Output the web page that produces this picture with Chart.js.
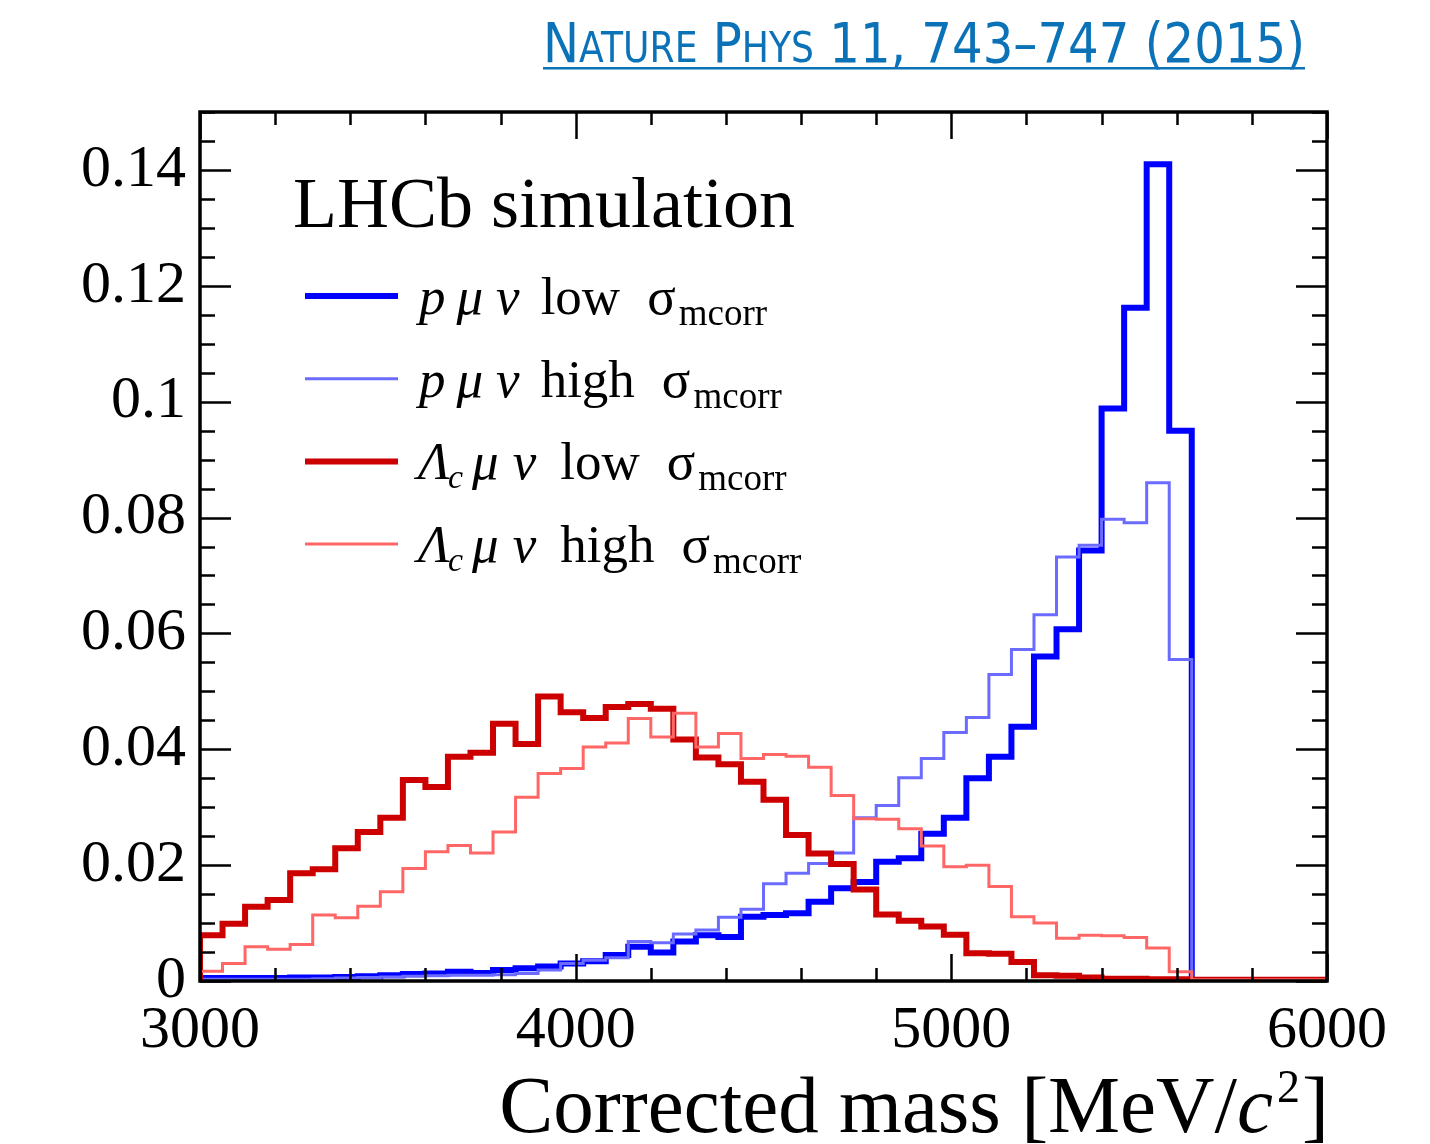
<!DOCTYPE html>
<html>
<head>
<meta charset="utf-8">
<title>LHCb simulation - corrected mass</title>
<script src="https://cdn.jsdelivr.net/npm/chart.js@4.4.1/dist/chart.umd.min.js"></script>
<style>
  html, body { margin: 0; padding: 0; background: #fff; }
  #wrap { position: relative; width: 1430px; height: 1144px; }
</style>
</head>
<body>
<div id="wrap"><canvas id="chart" width="1430" height="1144"></canvas></div>
<script>
// histogram binning: 50 bins of 60 MeV/c^2 from 3000 to 6000
const BIN_MIN = 3000;
const BIN_MAX = 6000;
const BIN_WIDTH = 60;

// p mu nu, low sigma_mcorr (thick blue)
const pLow = [
  0.0005, 0.0005, 0.0005, 0.0005, 0.0006, 0.0006, 0.0007, 0.0008, 0.0010, 0.0012,
  0.0013, 0.0016, 0.0014, 0.0019, 0.0022, 0.0025, 0.0030, 0.0034, 0.0045, 0.0059,
  0.0049, 0.0068, 0.0079, 0.0076, 0.0111, 0.0114, 0.0117, 0.0137, 0.0160, 0.0171,
  0.0206, 0.0212, 0.0254, 0.0282, 0.0350, 0.0387, 0.0439, 0.0560, 0.0607, 0.0743,
  0.0988, 0.1162, 0.1410, 0.0950, 0, 0, 0, 0, 0, 0
];
// p mu nu, high sigma_mcorr (thin light blue)
const pHigh = [
  0.0003, 0.0003, 0.0003, 0.0003, 0.0003, 0.0004, 0.0005, 0.0006, 0.0007, 0.0008,
  0.0009, 0.0010, 0.0010, 0.0011, 0.0013, 0.0019, 0.0030, 0.0036, 0.0040, 0.0068,
  0.0066, 0.0081, 0.0088, 0.0110, 0.0124, 0.0168, 0.0186, 0.0203, 0.0221, 0.0282,
  0.0303, 0.0351, 0.0384, 0.0429, 0.0455, 0.0529, 0.0572, 0.0632, 0.0732, 0.0752,
  0.0797, 0.0791, 0.0860, 0.0555, 0, 0, 0, 0, 0, 0
];
// Lambda_c mu nu, low sigma_mcorr (thick red)
const lcLow = [
  0.0079, 0.0099, 0.0128, 0.0140, 0.0186, 0.0193, 0.0229, 0.0257, 0.0282, 0.0347,
  0.0335, 0.0387, 0.0394, 0.0444, 0.0409, 0.0491, 0.0464, 0.0454, 0.0473, 0.0478,
  0.0470, 0.0417, 0.0386, 0.0374, 0.0344, 0.0313, 0.0252, 0.0220, 0.0202, 0.0158,
  0.0115, 0.0104, 0.0094, 0.0080, 0.0048, 0.0047, 0.0033, 0.0010, 0.0009, 0.0006,
  0.0004, 0.0004, 0.0003, 0.0003, 0.0002, 0.0002, 0.0002, 0.0002, 0.0002, 0.0002
];
// Lambda_c mu nu, high sigma_mcorr (thin light red)
const lcHigh = [
  0.0017, 0.0030, 0.0059, 0.0055, 0.0063, 0.0114, 0.0109, 0.0129, 0.0154, 0.0194,
  0.0223, 0.0234, 0.0221, 0.0257, 0.0317, 0.0358, 0.0367, 0.0404, 0.0411, 0.0453,
  0.0421, 0.0462, 0.0404, 0.0427, 0.0384, 0.0391, 0.0388, 0.0369, 0.0320, 0.0280,
  0.0279, 0.0263, 0.0233, 0.0197, 0.0200, 0.0163, 0.0111, 0.0100, 0.0074, 0.0079,
  0.0078, 0.0075, 0.0057, 0.0016, 0.0002, 0.0002, 0.0002, 0.0002, 0.0002, 0.0002
];

// axis ticks
const xMajorTicks = [3000, 4000, 5000, 6000];
const xMinorStep = 200;
const yMajorTicks = [0, 0.02, 0.04, 0.06, 0.08, 0.1, 0.12, 0.14];
const yMinorStep = 0.005;
const yMax = 0.15;

const SERIF = '"Liberation Serif", "Times New Roman", Times, serif';

// turns bin contents into points for a stepped line (left edge + closing point)
function histPoints(values) {
    const pts = [{ x: BIN_MIN, y: 0 }];
    values.forEach((v, i) => pts.push({ x: BIN_MIN + i * BIN_WIDTH, y: v }));
    pts.push({ x: BIN_MAX, y: values[values.length - 1] });
    return pts;
}

function histDataset(label, values, color, width, order) {
    return {
        label: label,
        data: histPoints(values),
        borderColor: color,
        borderWidth: width,
        stepped: true,
        pointRadius: 0,
        fill: false,
        borderJoinStyle: 'miter',
        borderCapStyle: 'butt',
        order: order
    };
}

// draws a run of text pieces; each piece may change font and baseline shift
function drawPieces(ctx, x, y, pieces) {
    let cx = x;
    pieces.forEach(p => {
        cx += p.gap || 0;
        ctx.font = p.font;
        ctx.fillText(p.t, cx, y + (p.dy || 0));
        cx += ctx.measureText(p.t).width;
    });
    return cx;
}

function piecesWidth(ctx, pieces) {
    let w = 0;
    pieces.forEach(p => {
        ctx.font = p.font;
        w += (p.gap || 0) + ctx.measureText(p.t).width;
    });
    return w;
}

const legendRows = [
    { color: '#0000ff', width: 6, name: 'p', sub: '', tail: 'low' },
    { color: '#6b6bff', width: 3, name: 'p', sub: '', tail: 'high' },
    { color: '#cc0000', width: 6, name: 'Λ', sub: 'c', tail: 'low' },
    { color: '#ff6666', width: 3, name: 'Λ', sub: 'c', tail: 'high' }
];

const framePlugin = {
    id: 'framePlugin',
    afterDraw(chart) {
        const ctx = chart.ctx;
        const xs = chart.scales.x;
        const ys = chart.scales.y;
        const { left, right, top, bottom } = chart.chartArea;
        ctx.save();

        // inward ticks on all four sides
        ctx.strokeStyle = '#000';
        ctx.lineWidth = 2.5;
        ctx.beginPath();
        for (let v = BIN_MIN; v <= BIN_MAX; v += xMinorStep) {
            const px = Math.round(xs.getPixelForValue(v)) + 0.5;
            const len = xMajorTicks.includes(v) ? 27 : 13;
            ctx.moveTo(px, bottom); ctx.lineTo(px, bottom - len);
            ctx.moveTo(px, top); ctx.lineTo(px, top + len);
        }
        const nMinor = Math.round(yMax / yMinorStep);
        for (let i = 0; i <= nMinor; i++) {
            const v = i * yMinorStep;
            const py = Math.round(ys.getPixelForValue(v)) + 0.5;
            const len = i % 4 === 0 ? 31 : 15;
            ctx.moveTo(left, py); ctx.lineTo(left + len, py);
            ctx.moveTo(right, py); ctx.lineTo(right - len, py);
        }
        ctx.stroke();

        // frame
        ctx.lineWidth = 3.5;
        ctx.strokeRect(left, top, right - left, bottom - top);

        ctx.fillStyle = '#000';
        ctx.textBaseline = 'alphabetic';
        ctx.textAlign = 'left';

        // label
        ctx.font = `72px ${SERIF}`;
        ctx.fillText('LHCb simulation', 293, 227);

        // legend
        const rm = `53px ${SERIF}`;
        const it = `italic 53px ${SERIF}`;
        const sub = `37px ${SERIF}`;
        const itSub = `italic 34px ${SERIF}`;
        legendRows.forEach((row, i) => {
            const ly = 296 + i * 82.7;
            ctx.strokeStyle = row.color;
            ctx.lineWidth = row.width;
            ctx.beginPath();
            ctx.moveTo(305, ly);
            ctx.lineTo(398, ly);
            ctx.stroke();

            const pieces = [];
            if (row.sub) {
                pieces.push({ t: row.name, font: it, gap: 6 });
                pieces.push({ t: row.sub, font: itSub, dy: 9, gap: -2 });
                pieces.push({ t: 'μ', font: it, gap: 9 });
                pieces.push({ t: 'ν', font: it, gap: 14 });
                pieces.push({ t: row.tail, font: rm, gap: 24 });
            } else {
                pieces.push({ t: row.name, font: it, gap: 7 });
                pieces.push({ t: 'μ', font: it, gap: 11 });
                pieces.push({ t: 'ν', font: it, gap: 13 });
                pieces.push({ t: row.tail, font: rm, gap: 21 });
            }
            pieces.push({ t: 'σ', font: rm, gap: 27 });
            pieces.push({ t: 'mcorr', font: sub, dy: 11, gap: 3 });
            drawPieces(ctx, 412, ly + 18, pieces);
        });

        // x axis title, right aligned to the frame
        const title = [
            { t: 'Corrected mass [MeV/', font: `81px ${SERIF}` },
            { t: 'c', font: `italic 81px ${SERIF}` },
            { t: '2', font: `46px ${SERIF}`, dy: -30, gap: 4 },
            { t: ']', font: `81px ${SERIF}`, gap: 2 }
        ];
        const tw = piecesWidth(ctx, title);
        drawPieces(ctx, 1329 - tw, 1132, title);

        // journal reference in the top right corner
        const big = '56px "DejaVu Sans", "Liberation Sans", sans-serif';
        const small = '42px "DejaVu Sans", "Liberation Sans", sans-serif';
        const ref = [
            { t: 'N', font: big }, { t: 'ATURE', font: small },
            { t: ' P', font: big }, { t: 'HYS', font: small },
            { t: ' 11, 743–747 (2015)', font: big }
        ];
        const natural = piecesWidth(ctx, ref);
        const refLeft = 543, refRight = 1305;
        ctx.save();
        ctx.fillStyle = '#0b72b8';
        ctx.translate(refLeft, 0);
        ctx.scale((refRight - refLeft) / natural, 1);
        drawPieces(ctx, 0, 62, ref);
        ctx.restore();
        ctx.fillStyle = '#0b72b8';
        ctx.fillRect(refLeft, 67, refRight - refLeft, 2.5);

        ctx.restore();
    }
};

new Chart(document.getElementById('chart'), {
    type: 'line',
    data: {
        datasets: [
            histDataset('p mu nu low', pLow, '#0000ff', 6, 3),
            histDataset('p mu nu high', pHigh, '#6b6bff', 3, 2),
            histDataset('Lc mu nu low', lcLow, '#cc0000', 6, 1),
            histDataset('Lc mu nu high', lcHigh, '#ff6666', 3, 0)
        ]
    },
    options: {
        responsive: false,
        animation: false,
        devicePixelRatio: 1,
        layout: { padding: { top: 112, right: 103, left: 0, bottom: 0 } },
        plugins: {
            legend: { display: false },
            tooltip: { enabled: false }
        },
        scales: {
            x: {
                type: 'linear',
                min: BIN_MIN,
                max: BIN_MAX,
                grid: { display: false, drawTicks: false },
                border: { display: false },
                afterBuildTicks: s => { s.ticks = xMajorTicks.map(v => ({ value: v })); },
                afterFit: s => { s.height = 163; },
                ticks: {
                    color: '#000',
                    padding: 14,
                    maxRotation: 0,
                    font: { family: SERIF, size: 60 },
                    callback: v => String(v)
                }
            },
            y: {
                type: 'linear',
                min: 0,
                max: yMax,
                grid: { display: false, drawTicks: false },
                border: { display: false },
                afterBuildTicks: s => { s.ticks = yMajorTicks.map(v => ({ value: v })); },
                afterFit: s => { s.width = 200; },
                ticks: {
                    color: '#000',
                    padding: 14,
                    font: { family: SERIF, size: 60 },
                    callback: v => String(Number(v.toFixed(2)))
                }
            }
        }
    },
    plugins: [framePlugin]
});
</script>
</body>
</html>
